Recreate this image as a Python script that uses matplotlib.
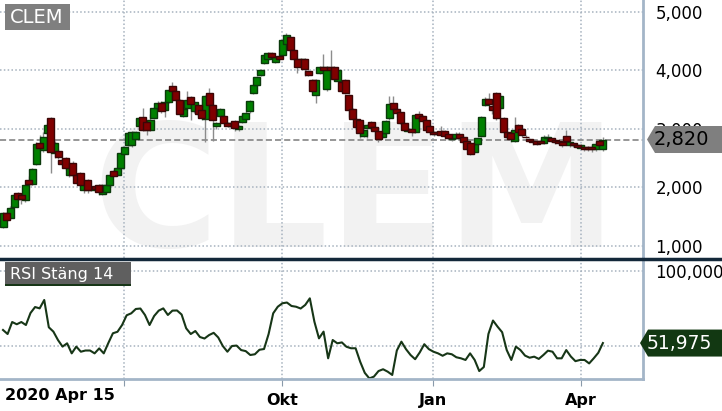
import matplotlib
matplotlib.use("Agg")
import matplotlib.pyplot as plt
import numpy as np
from matplotlib.patches import Polygon, Rectangle
from matplotlib.lines import Line2D
from matplotlib.transforms import IdentityTransform

# Kursdata CLEM, dagliga candles
opens = [
    1330, 1560, 1480, 1670, 1900, 1880, 1790, 2130, 2060, 2400,
    2760, 2640, 2930, 3190, 2590, 2620, 2470, 2500, 2210, 2420,
    2210, 2250, 1960, 2130, 1960, 2030, 2040, 1890, 1920, 2040,
    2280, 2210, 2330, 2570, 2730,
    2730, 2830, 3050, 3200, 3120, 2990, 3190, 3360, 3450, 3330,
    3460, 3730, 3650, 3500, 3230, 3350, 3550, 3300, 3410, 3320,
    3170, 3620, 3410, 3050, 3230, 3220, 3100, 3050, 3130, 3000,
    3120, 3170, 3300, 3610, 3750, 3920, 4130, 4200, 4300, 4150,
    4250, 4270, 4450, 4570, 4350, 4200, 4080, 4190, 3990, 3840,
    3580, 3960, 4060, 3690, 4060, 4060, 3820, 3800, 3840, 3580,
    3340, 3170, 3150, 2880, 3020, 3120, 3030, 2960, 2860, 2930,
    3180, 3440, 3340, 3290, 3100, 2960, 3000, 2950, 3260, 3220,
    3150, 3050, 2950, 2910, 2970, 2970, 2920, 2830, 2850, 2920,
    2860, 2800, 2760, 2600, 2740, 2880, 3410, 3520, 3400, 3610,
    3350, 3180, 2950, 2930, 2800, 3070, 3000, 2870, 2830, 2800,
    2790, 2790, 2760, 2850, 2850, 2810, 2800, 2780, 2880, 2720,
    2760, 2720, 2680, 2700, 2690, 2700, 2650, 2800, 2650,
]
closes = [
    1560, 1450, 1650, 1870, 1800, 1800, 2040, 2060, 2310, 2740,
    2680, 2860, 3070, 2600, 2760, 2520, 2400, 2340, 2380, 2210,
    2080, 2040, 2080, 1960, 1990, 1970, 1930, 2040, 2040, 2210,
    2200, 2330, 2590, 2690, 2930,
    2950, 2950, 3190, 2980, 2980, 3160, 3360, 3450, 3300, 3460,
    3660, 3650, 3500, 3260, 3340, 3500, 3420, 3460, 3250, 3180,
    3560, 3410, 3150, 3100, 3340, 3100, 3050, 3100, 3020, 3050,
    3230, 3280, 3480, 3750, 3880, 4010, 4260, 4300, 4230, 4230,
    4200, 4520, 4600, 4350, 4200, 4060, 4200, 4020, 3920, 3650,
    3840, 4060, 4010, 4060, 4010, 3850, 4010, 3650, 3610, 3320,
    3170, 3030, 2930, 2980, 3070, 3030, 2960, 2830, 2930, 3130,
    3430, 3340, 3270, 3100, 2980, 3000, 2950, 3240, 3190, 3130,
    2980, 2950, 2920, 2950, 2900, 2880, 2840, 2880, 2920, 2850,
    2770, 2660, 2570, 2740, 2840, 3200, 3520, 3430, 3330, 3180,
    3570, 2950, 2870, 2830, 2980, 2950, 2890, 2860, 2790, 2780,
    2750, 2760, 2870, 2870, 2800, 2770, 2760, 2720, 2800, 2780,
    2720, 2690, 2730, 2650, 2650, 2650, 2750, 2720, 2820,
]
highs = [
    1580, 1580, 1680, 1900, 1920, 1900, 2060, 2200, 2330, 2780,
    2900, 2950, 3100, 3200, 2800, 2650, 2500, 2520, 2400, 2450,
    2230, 2270, 2100, 2150, 2010, 2050, 2060, 2060, 2060, 2230,
    2300, 2350, 2610, 2710, 2950,
    2970, 2970, 3210, 3350, 3140, 3250, 3380, 3470, 3470, 3480,
    3680, 3800, 3700, 3520, 3360, 3650, 3570, 3480, 3430, 3550,
    3580, 3700, 3430, 3120, 3360, 3240, 3120, 3120, 3150, 3070,
    3250, 3300, 3500, 3770, 3900, 4030, 4280, 4320, 4320, 4250,
    4270, 4540, 4640, 4590, 4370, 4220, 4220, 4210, 4010, 3860,
    3860, 4080, 4280, 4080, 4350, 4080, 4030, 3820, 3860, 3600,
    3360, 3190, 3170, 3000, 3090, 3140, 3050, 2980, 2950, 3150,
    3560, 3560, 3360, 3310, 3120, 3020, 3020, 3260, 3300, 3240,
    3170, 3070, 2970, 2970, 3050, 2990, 2940, 2900, 2940, 2940,
    2880, 2820, 2780, 2760, 2860, 3220, 3540, 3620, 3420, 3640,
    3590, 3200, 2970, 2950, 3200, 3090, 3020, 2890, 2850, 2820,
    2810, 2810, 2900, 2920, 2870, 2830, 2820, 2800, 2980, 2800,
    2780, 2740, 2750, 2720, 2710, 2720, 2770, 2820, 2860,
]
lows = [
    1300, 1420, 1460, 1650, 1780, 1720, 1760, 2040, 2040, 2380,
    2650, 2600, 2900, 2250, 2500, 2480, 2380, 2300, 2180, 2180,
    2060, 1950, 1900, 1900, 1940, 1950, 1880, 1870, 1900, 2020,
    2180, 2190, 2310, 2550, 2710,
    2700, 2810, 3030, 2960, 2900, 2970, 3170, 3340, 3280, 3200,
    3440, 3630, 3480, 3240, 3210, 3330, 3150, 3280, 3230, 3160,
    2780, 3390, 2800, 3000, 3210, 3080, 3030, 3030, 2970, 2960,
    3100, 3150, 3280, 3590, 3730, 3900, 4110, 4180, 4210, 4130,
    4180, 4250, 4430, 4330, 4180, 3950, 4060, 3900, 3900, 3630,
    3450, 3940, 3990, 3650, 3990, 3830, 3800, 3630, 3590, 3200,
    3150, 3010, 2850, 2860, 2850, 3010, 2880, 2780, 2840, 2910,
    3160, 3320, 3200, 3080, 2960, 2940, 2880, 2930, 3170, 3110,
    2960, 2900, 2880, 2890, 2880, 2840, 2820, 2800, 2830, 2830,
    2750, 2640, 2550, 2580, 2720, 2860, 3390, 3410, 3250, 3160,
    3330, 2930, 2850, 2780, 2780, 2930, 2870, 2840, 2770, 2730,
    2720, 2740, 2740, 2830, 2780, 2750, 2740, 2700, 2780, 2700,
    2700, 2670, 2660, 2620, 2620, 2600, 2630, 2700, 2630,
]

# RSI (stängning, 14 dagar), jämnt utspridd över samma period
rsi = [
    60.7, 58.0, 66.0, 64.5, 66.0, 64.0, 72.0, 76.0, 75.1, 80.7,
    62.5, 59.6, 54.0, 49.6, 51.8, 45.1, 49.6, 46.2, 47.0, 47.0,
    45.1, 48.4, 45.1, 52.0, 58.5, 59.5, 64.0, 70.5, 71.8, 74.7,
    75.0, 70.7, 64.0, 70.0, 73.6, 75.1, 70.7, 73.6, 73.7, 71.0,
    61.8, 58.0, 60.0, 56.0, 55.0, 57.3, 58.8, 55.7, 50.0, 46.2,
    50.0, 50.3, 47.3, 46.6, 44.0, 44.5, 47.5, 48.0, 58.0, 71.8,
    76.2, 78.5, 79.0, 76.7, 76.2, 75.0, 77.4, 81.8, 66.2, 55.1,
    59.6, 41.8, 54.0, 51.8, 52.4, 49.5, 48.5, 48.5, 39.5, 32.1,
    28.4, 29.6, 33.3, 34.5, 32.9, 30.7, 47.0, 52.9, 47.9, 44.0,
    41.2, 45.7, 51.2, 47.9, 46.2, 45.1, 43.5, 45.1, 44.5, 42.5,
    41.8, 40.7, 45.1, 40.7, 33.3, 36.0, 58.0, 67.0, 62.9, 59.2,
    47.3, 40.7, 49.6, 47.3, 43.6, 42.2, 42.9, 41.4, 44.0, 46.9,
    46.2, 41.8, 41.8, 47.3, 43.0, 39.9, 40.7, 40.7, 38.4, 41.8,
    45.5, 51.975,
]

# Tidsaxel: positioner i candle-index för kvartalsstarter
tick_pos = [32.9, 75.8, 116.8, 157.1]
tick_labels = ["", "Okt", "Jan", "Apr"]
start_label = "2020 Apr 15"
price_ticks = [1000, 2000, 3000, 4000, 5000]
rsi_ticks = [50, 100]
rsi_tick_labels = ["", "100,000"]
last_price = 2820
last_rsi = 51.975
ticker = "CLEM"

W, H = 722, 411
GRID = "#a6b2be"
SPINE = "#a3b5c8"
RSI_COLOR = "#173617"

fig = plt.figure(figsize=(W / 100, H / 100), dpi=100)
ax = fig.add_axes([0, 1 - 258 / H, 643 / W, 258 / H])
ax_rsi = fig.add_axes([0, 1 - 379 / H, 643 / W, 121 / H])

o = np.array(opens)
c = np.array(closes)
hi = np.array(highs)
lo = np.array(lows)
x = np.arange(len(c))
up = c >= o

# Candles
ax.vlines(x, lo, hi, color="#8c8c8c", lw=1, zorder=2)
ax.bar(x[up], (c - o)[up], bottom=o[up], width=1.9, color="#008000",
       edgecolor="#0b3a0b", linewidth=1, zorder=3)
ax.bar(x[~up], (o - c)[~up], bottom=c[~up], width=1.9, color="#800000",
       edgecolor="#3a0606", linewidth=1, zorder=3)
ax.axhline(last_price, color="#7a7a7a", ls=(0, (4, 2)), lw=1.1, zorder=1.5)

# Vattenstämpel
ax.text(0.552, 0.043, ticker, transform=ax.transAxes, fontsize=124,
        fontweight="bold", color="#f2f2f2", ha="center", va="baseline", zorder=0)

xmin, xmax = -0.82, 173.9
for a in (ax, ax_rsi):
    a.set_xlim(xmin, xmax)
    a.set_xticks(tick_pos)
    a.grid(True, color=GRID, ls=(0, (1, 1.5)), lw=1.1, zorder=0.5)
    a.set_axisbelow(True)
    a.yaxis.tick_right()
    a.tick_params(axis="y", length=0, pad=9, labelsize=12, labelcolor="black")
    for s in ("left", "top"):
        a.spines[s].set_visible(False)
    a.spines["right"].set_color(SPINE)
    a.spines["right"].set_linewidth(2)

ax.set_ylim(795, 5204)
ax.set_yticks(price_ticks)
ax.set_yticklabels([f"{v:,}" for v in price_ticks])
ax.tick_params(axis="x", length=0, labelbottom=False)
ax.spines["bottom"].set_visible(False)

# RSI-panel
ax_rsi.plot(np.linspace(0, len(c) - 1, len(rsi)), rsi, color=RSI_COLOR, lw=1.5)
ax_rsi.set_ylim(28, 108.7)
ax_rsi.set_yticks(rsi_ticks)
ax_rsi.set_yticklabels(rsi_tick_labels)
ax_rsi.set_xticklabels(tick_labels, fontweight="bold", fontsize=11.5)
ax_rsi.tick_params(axis="x", length=5, color="#8a9aaa", pad=5)
ax_rsi.spines["bottom"].set_color(SPINE)
ax_rsi.spines["bottom"].set_linewidth(2)

ident = IdentityTransform()

# Avdelare mellan panelerna
fig.add_artist(Line2D([0, W], [H - 258.5, H - 258.5], lw=2.5, color="#13283a",
                      transform=ident))


def tag(axis, value, text, fc, tc, fs, x0):
    _, yd = axis.transData.transform((0, value))
    h = 13.5
    pts = [(x0, yd), (x0 + 8, yd + h), (W + 2, yd + h), (W + 2, yd - h), (x0 + 8, yd - h)]
    fig.add_artist(Polygon(pts, closed=True, fc=fc, ec="none", transform=ident, zorder=5))
    fig.text(x0 + 7, yd, text, color=tc, fontsize=fs, ha="left", va="center",
             transform=ident, zorder=6)


tag(ax, last_price, f"{last_price:,}", "#7f7f7f", "black", 14, 647)
tag(ax_rsi, last_rsi, f"{last_rsi:.3f}".replace(".", ","), "#123812", "white", 13.5, 640)

# Etikettrutor
fig.add_artist(Rectangle((5, H - 30), 65, 26, fc="#7f7f7f", ec="none", transform=ident, zorder=5))
fig.text(10, H - 17.5, ticker, color="white", fontsize=14, ha="left", va="center",
         transform=ident, zorder=6)
fig.add_artist(Rectangle((5, H - 286), 126, 24, fc="#5f5f5f", ec="none", transform=ident, zorder=5))
fig.add_artist(Rectangle((5, H - 286), 126, 2.5, fc=RSI_COLOR, ec="none", transform=ident, zorder=5))
fig.text(10, H - 274, "RSI Stäng 14", color="white", fontsize=11.5, ha="left", va="center",
         transform=ident, zorder=6)

fig.text(5, H - 395, start_label, fontweight="bold", fontsize=11.5, ha="left", va="center",
         transform=ident)

fig.savefig("out.png", dpi=100)
